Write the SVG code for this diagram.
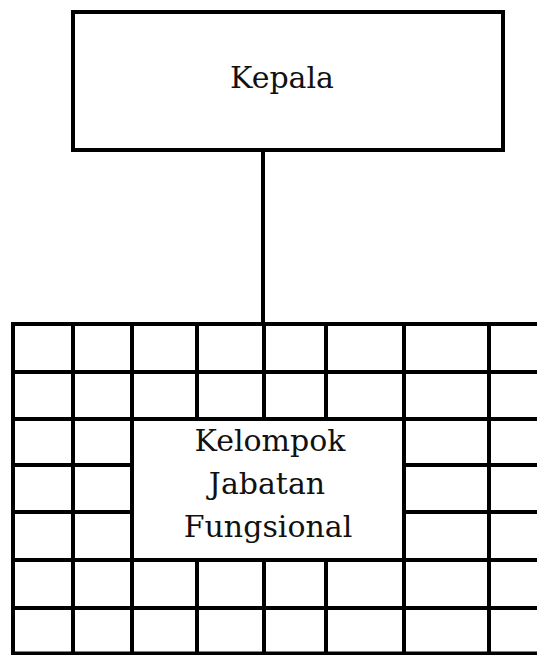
<svg xmlns="http://www.w3.org/2000/svg" width="537" height="655" viewBox="0 0 537 655">
<style>
.s{stroke:#000;stroke-width:4;fill:none}
.b{stroke:#000;stroke-width:4;fill:#fff}
.t{font-family:"DejaVu Serif","Liberation Serif",serif;font-size:30px;fill:#111;text-anchor:middle}
</style>
<rect width="537" height="655" fill="#fff"/>
<g id="connectors">
<line class="s" x1="263" y1="150" x2="263" y2="324"/>
</g>
<g id="kepala">
<rect class="b" x="73" y="12" width="430" height="138"/>
<text class="t" x="282" y="88">Kepala</text>
</g>
<g id="kelompok-jabatan-fungsional">
<path class="s" d="M13 324H537M13 372H537M13 419H537M13 465H132M404 465H537M13 512H132M404 512H537M13 560H537M13 608H537M13 653.5H537
M13 322V655.5M73 322V655.5M132 322V655.5M197 322V419M197 560V655.5M264 322V419M264 560V655.5M326 322V419M326 560V655.5M404 322V655.5M489 322V655.5"/>
<rect class="b" x="132" y="419" width="272" height="141"/>
<text class="t" x="270" y="451">Kelompok</text>
<text class="t" x="267" y="494">Jabatan</text>
<text class="t" x="268" y="537">Fungsional</text>
</g>
</svg>
